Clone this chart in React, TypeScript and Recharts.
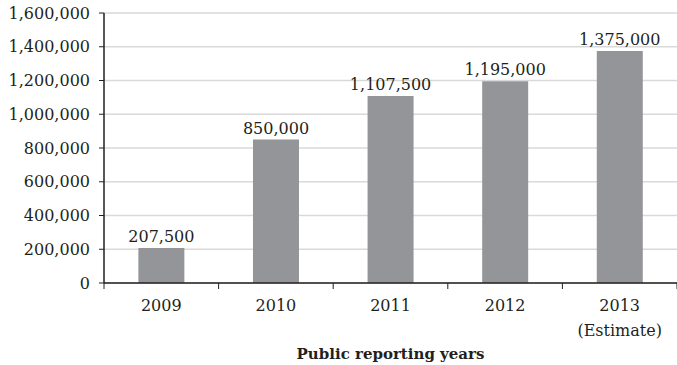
import { BarChart, Bar, XAxis, YAxis, CartesianGrid, LabelList } from 'recharts';

const years = ['2009', '2010', '2011', '2012', '2013'];
const subLabels = ['', '', '', '', '(Estimate)'];
const reported = [207500, 850000, 1107500, 1195000, 1375000];
const yTicks = [0, 200000, 400000, 600000, 800000, 1000000, 1200000, 1400000, 1600000];

const data = years.map((y, i) => ({ year: y, sub: subLabels[i], value: reported[i] }));

const W = 677;
const H = 365;
const Y_W = 104;
const M = { top: 13, right: 0, left: 0, bottom: 0 };
const half = (W - Y_W - M.left - M.right) / years.length / 2;
const FONT = '"DejaVu Serif", serif';
const INK = '#231f20';

const fmt = (v: number) => v.toLocaleString('en-US');

function YearTick(props: any) {
  const { x, y, payload, index } = props;
  const top = y - 14;
  const sub = subLabels[index];
  return (
    <g>
      <line x1={x - half} x2={x - half} y1={top} y2={top + 6} stroke={INK} />
      {index === years.length - 1 && (
        <line x1={x + half} x2={x + half} y1={top} y2={top + 6} stroke={INK} />
      )}
      <text x={x} y={y} dy={14} textAnchor="middle" fill={INK} fontSize={16} fontFamily={FONT}>
        {payload.value}
      </text>
      {sub && (
        <text x={x} y={y} dy={39} textAnchor="middle" fill={INK} fontSize={16} fontFamily={FONT}>
          {sub}
        </text>
      )}
    </g>
  );
}

export default function App() {
  return (
    <div style={{ position: 'absolute', left: 0, top: 0 }}>
      <BarChart width={W} height={H} data={data} margin={M} barCategoryGap="30%">
        <CartesianGrid vertical={false} stroke="#d9d9d9" strokeWidth={1.5} />
        <XAxis
          dataKey="year"
          height={H - 283 - M.bottom}
          axisLine={{ stroke: INK, strokeWidth: 1.5 }}
          tickLine={false}
          tickSize={6}
          tickMargin={8}
          interval={0}
          tick={<YearTick />}
          label={{
            value: 'Public reporting years',
            position: 'insideBottom',
            offset: 6,
            fill: INK,
            fontSize: 15,
            fontWeight: 'bold',
            fontFamily: FONT,
          }}
        />
        <YAxis
          width={Y_W}
          domain={[0, 1600000]}
          ticks={yTicks}
          interval={0}
          tickFormatter={fmt}
          axisLine={{ stroke: INK, strokeWidth: 1.5 }}
          tickLine={{ stroke: INK }}
          tickSize={5}
          tickMargin={9}
          tick={{ fill: INK, fontSize: 16, fontFamily: FONT }}
        />
        <Bar dataKey="value" fill="#939598" isAnimationActive={false}>
          <LabelList
            dataKey="value"
            position="top"
            offset={6}
            formatter={(v: any) => fmt(Number(v))}
            style={{ fill: INK, fontSize: 16, fontFamily: FONT }}
          />
        </Bar>
      </BarChart>
    </div>
  );
}
